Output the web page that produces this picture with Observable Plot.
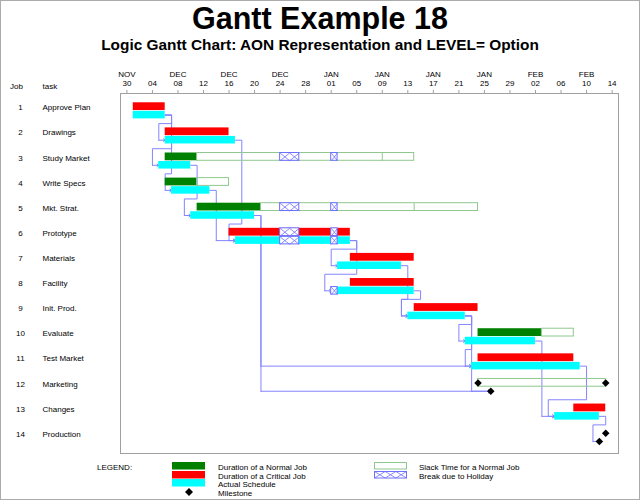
<!DOCTYPE html>
<html><head><meta charset="utf-8">
<script src="https://cdn.jsdelivr.net/npm/d3@7"></script>
<script src="https://cdn.jsdelivr.net/npm/@observablehq/plot@0.6"></script>
<style>
body{margin:0;background:#fff;font-family:"Liberation Sans",Arial,Helvetica,sans-serif;}
#wrap{position:relative;width:640px;height:500px;overflow:hidden;background:#fff;}
#border{position:absolute;left:0;top:0;width:638px;height:498px;border:1px solid #ababab;pointer-events:none;}
#title{position:absolute;left:0;top:2px;width:640px;text-align:center;font-weight:bold;font-size:30.5px;line-height:32px;}
#subtitle{position:absolute;left:0;top:36px;width:640px;text-align:center;font-weight:bold;font-size:15.4px;line-height:18px;}
#chart{position:absolute;left:0;top:58px;}
#legend{position:absolute;left:0;top:455px;width:640px;height:45px;font-size:8px;line-height:10px;}
#legend .t{position:absolute;white-space:nowrap;}
#legend svg{position:absolute;overflow:visible;}
</style></head>
<body>
<div id="wrap">
  <div id="title">Gantt Example 18</div>
  <div id="subtitle">Logic Gantt Chart: AON Representation and LEVEL= Option</div>
  <div id="chart"></div>
  <div id="legend"></div>
  <div id="border"></div>
</div>
<script>
// ---------------- data ----------------
const jobs = [1,2,3,4,5,6,7,8,9,10,11,12,13,14];
const tasks = ["Approve Plan","Drawings","Study Market","Write Specs","Mkt. Strat.","Prototype",
  "Materials","Facility","Init. Prod.","Evaluate","Test Market","Marketing","Changes","Production"];
const critical = [1,1,0,0,0,1,1,1,1,0,1,1,1,1];
// scheduled (upper bar) start / finish
const schedStart  = ["2003-12-01","2003-12-06","2003-12-06","2003-12-06","2003-12-11","2003-12-16",
  "2004-01-04","2004-01-04","2004-01-14","2004-01-24","2004-01-24","2004-01-24","2004-02-08","2004-02-13"];
const schedFinish = ["2003-12-06","2003-12-16","2003-12-11","2003-12-11","2003-12-21","2004-01-04",
  "2004-01-14","2004-01-14","2004-01-24","2004-02-03","2004-02-08",null,"2004-02-13",null];
const slackEnd    = [null,null,"2004-01-14","2003-12-16","2004-01-24",null,null,null,null,"2004-02-08",null,"2004-02-13",null,null];
// actual schedule (lower bar)
const actualStart  = ["2003-12-01","2003-12-06","2003-12-05","2003-12-07","2003-12-10","2003-12-17",
  "2004-01-02","2004-01-01","2004-01-13","2004-01-22","2004-01-23","2004-01-26","2004-02-05","2004-02-12"];
const actualFinish = ["2003-12-06","2003-12-17","2003-12-10","2003-12-13","2003-12-20","2004-01-04",
  "2004-01-12","2004-01-14","2004-01-22","2004-02-02","2004-02-09",null,"2004-02-12",null];
// milestones
const milestoneJob   = [12,12,14];
const milestoneDate  = ["2004-01-24","2004-02-13","2004-02-13"];
const actualMsJob    = [12,14];
const actualMsDate   = ["2004-01-26","2004-02-12"];
// holidays
const holidayStart = ["2003-12-24","2004-01-01"];
const holidayEnd   = ["2003-12-27","2004-01-02"];
// slack segment dividers
const dividerJob  = [3,5];
const dividerDate = ["2004-01-09","2004-01-14"];
// precedence links (AON)
const linkFrom = [1,1,1,2,3,4,5,5,6,6,7,8,9,9,9,10,11,13];
const linkTo   = [2,3,4,6,5,6,11,12,7,8,9,9,10,11,12,13,13,14];
// axis ticks
const tickDates = ["2003-11-30","2003-12-04","2003-12-08","2003-12-12","2003-12-16","2003-12-20","2003-12-24","2003-12-28",
  "2004-01-01","2004-01-05","2004-01-09","2004-01-13","2004-01-17","2004-01-21","2004-01-25","2004-01-29",
  "2004-02-02","2004-02-06","2004-02-10","2004-02-14"];
const dayLabels = ["30","04","08","12","16","20","24","28","01","05","09","13","17","21","25","29","02","06","10","14"];
const monthTickDates = ["2003-11-30","2003-12-08","2003-12-16","2003-12-24","2004-01-01","2004-01-09","2004-01-17","2004-01-25","2004-02-02","2004-02-10"];
const monthLabels = ["NOV","DEC","DEC","DEC","JAN","JAN","JAN","JAN","FEB","FEB"];

// ---------------- build ----------------
const DAY = 864e5;
const D = s => s ? new Date(s + "T00:00:00Z") : null;
const GREEN = "#008000", RED = "#ff0000", CYAN = "#00ffff";
const SLACK = "#8fc88f", HATCH = "#6f6fff", LINK = "#8484ff";
const UP = [-0.2, 0.11], LOW = [0.14, 0.44], LOW_MID = 0.29, UP_MID = -0.04, CHAN = -0.37;

const rows = jobs.map((j, i) => ({
  job: j, task: tasks[i], critical: critical[i] === 1,
  ss: D(schedStart[i]), sf: D(schedFinish[i]), se: D(slackEnd[i]),
  as: D(actualStart[i]), af: D(actualFinish[i])
}));
const holidays = holidayStart.map((s, i) => ({s: D(s), e: D(holidayEnd[i])}));

const upperBars = rows.filter(r => r.sf);
const slackBars = rows.filter(r => r.se).map(r => ({job: r.job, x1: r.sf || r.ss, x2: r.se}));
const lowerBars = rows.filter(r => r.af);

// holiday break boxes
const hatchBoxes = [];
rows.forEach(r => {
  const spans = [];
  if (r.sf || r.se) spans.push({a: r.ss, b: r.se || r.sf, y1: r.job + UP[0], y2: r.job + UP[1]});
  if (r.af) spans.push({a: r.as, b: r.af, y1: r.job + LOW[0], y2: r.job + LOW[1]});
  spans.forEach(sp => holidays.forEach(h => {
    if (h.s >= sp.a && h.e <= sp.b) hatchBoxes.push({x1: h.s, x2: h.e, y1: sp.y1, y2: sp.y2});
  }));
});
const hatchLines = [];
hatchBoxes.forEach(b => {
  const days = (b.x2 - b.x1) / DAY;
  const n = Math.max(1, Math.round(days / 1.5));
  const w = (b.x2 - b.x1) / n;
  for (let k = 0; k < n; k++) {
    const xa = new Date(+b.x1 + k * w), xb = new Date(+b.x1 + (k + 1) * w);
    hatchLines.push({x1: xa, y1: b.y1, x2: xb, y2: b.y2});
    hatchLines.push({x1: xa, y1: b.y2, x2: xb, y2: b.y1});
  }
});

const dividers = dividerJob.map((j, i) => ({x: D(dividerDate[i]), y1: j + UP[0], y2: j + UP[1]}));
const msUpper = milestoneJob.map((j, i) => ({job: j, x: D(milestoneDate[i]), y: j + UP_MID}));
const msLower = actualMsJob.map((j, i) => ({job: j, x: D(actualMsDate[i]), y: j + LOW_MID}));

// connector routing
const polyPts = [], arrowSegs = [];
linkFrom.forEach((p, i) => {
  const s = linkTo[i];
  const P = rows[p - 1], S = rows[s - 1];
  const a = P.af, b = S.as;
  const yP = p + LOW_MID, yS = s + LOW_MID;
  const xa = new Date(+a + DAY), xb = new Date(+b - DAY);
  let pts;
  if (+xa <= +xb) {
    pts = [[a, yP], [xa, yP], [xa, yS]];
    arrowSegs.push({x1: xa, y1: yS, x2: b, y2: yS});
  } else {
    const yc = s + CHAN;
    pts = [[a, yP], [xa, yP], [xa, yc], [xb, yc], [xb, yS]];
    arrowSegs.push({x1: xb, y1: yS, x2: b, y2: yS});
  }
  pts.forEach(([x, y]) => polyPts.push({id: i, x, y}));
});

const monthMap = new Map(monthTickDates.map((d, i) => [+D(d), monthLabels[i]]));
const dayMap = new Map(tickDates.map((d, i) => [+D(d), dayLabels[i]]));

const plot = Plot.plot({
  width: 640, height: 400,
  marginLeft: 120, marginRight: 22, marginTop: 35, marginBottom: 5,
  style: {fontFamily: "'Liberation Sans', Arial, Helvetica, sans-serif", fontSize: "8px", background: "white", color: "black", overflow: "visible"},
  x: {type: "utc", domain: [D("2003-11-29"), D("2004-02-15")]},
  y: {domain: [0.43, 14.77], range: [35, 395], axis: null},
  marks: [
    Plot.axisX({anchor: "top", ticks: tickDates.map(D), tickSize: 4, tickPadding: 3.5, stroke: "#a0a0a0", fill: "black",
      fontSize: 8, label: null, tickFormat: d => dayMap.get(+d)}),
    Plot.axisX({anchor: "top", ticks: monthTickDates.map(D), tickSize: 0, tickPadding: 16.5, fill: "black",
      fontSize: 8, label: null, tickFormat: d => monthMap.get(+d)}),
    // connectors
    Plot.line(polyPts, {x: "x", y: "y", z: "id", stroke: LINK, strokeWidth: 1, curve: "linear"}),
    Plot.arrow(arrowSegs, {x1: "x1", y1: "y1", x2: "x2", y2: "y2", stroke: LINK, strokeWidth: 1, headLength: 4, headAngle: 70}),
    // bars
    Plot.rect(upperBars, {x1: "ss", x2: "sf", y1: d => d.job + UP[0], y2: d => d.job + UP[1], fill: d => d.critical ? RED : GREEN}),
    Plot.rect(slackBars, {x1: "x1", x2: "x2", y1: d => d.job + UP[0], y2: d => d.job + UP[1], fill: "none", stroke: SLACK}),
    Plot.link(dividers, {x1: "x", x2: "x", y1: "y1", y2: "y2", stroke: SLACK}),
    Plot.rect(lowerBars, {x1: "as", x2: "af", y1: d => d.job + LOW[0], y2: d => d.job + LOW[1], fill: CYAN}),
    Plot.rect(hatchBoxes, {x1: "x1", x2: "x2", y1: "y1", y2: "y2", fill: "white", stroke: HATCH}),
    Plot.link(hatchLines, {x1: "x1", y1: "y1", x2: "x2", y2: "y2", stroke: HATCH, strokeWidth: 0.8}),
    // milestones
    Plot.dot(msUpper, {x: "x", y: "y", symbol: "diamond2", r: 3.4, fill: "black"}),
    Plot.dot(msLower, {x: "x", y: "y", symbol: "diamond2", r: 3.4, fill: "black"}),
    // left columns
    Plot.text(rows, {y: "job", text: d => String(d.job), frameAnchor: "left", dx: -100, textAnchor: "middle", fontSize: 8, fill: "black"}),
    Plot.text(rows, {y: "job", text: "task", frameAnchor: "left", dx: -78, textAnchor: "start", fontSize: 8, fill: "black"}),
    Plot.text(["Job"], {frameAnchor: "top-left", dx: -104, dy: -10, textAnchor: "middle", fontSize: 8, fill: "black"}),
    Plot.text(["task"], {frameAnchor: "top-left", dx: -78, dy: -10, textAnchor: "start", fontSize: 8, fill: "black"}),
    Plot.frame({stroke: "#a0a0a0"})
  ]
});
document.getElementById("chart").appendChild(plot);

// ---------------- legend ----------------
const legendLeft = [
  {label: "Duration of a Normal Job", kind: "rect", color: GREEN},
  {label: "Duration of a Critical Job", kind: "rect", color: RED},
  {label: "Actual Schedule", kind: "rect", color: CYAN},
  {label: "Milestone", kind: "diamond"}
];
const legendRight = [
  {label: "Slack Time for a Normal Job", kind: "slack"},
  {label: "Break due to Holiday", kind: "hatch"}
];
const lg = document.getElementById("legend");
const NS = "http://www.w3.org/2000/svg";
function addText(txt, left, top) {
  const s = document.createElement("div");
  s.className = "t"; s.style.left = left + "px"; s.style.top = top + "px"; s.textContent = txt;
  lg.appendChild(s);
}
function addSwatch(kind, color, left, top) {
  const svg = document.createElementNS(NS, "svg");
  svg.setAttribute("width", 34); svg.setAttribute("height", 9);
  svg.style.left = left + "px"; svg.style.top = top + "px";
  const mk = (tag, attrs) => { const e = document.createElementNS(NS, tag); for (const k in attrs) e.setAttribute(k, attrs[k]); svg.appendChild(e); return e; };
  if (kind === "rect") mk("rect", {x: 0, y: 0, width: 33, height: 7.5, fill: color});
  else if (kind === "diamond") mk("path", {d: "M17,0L21,4L17,8L13,4Z", fill: "black"});
  else if (kind === "slack") mk("rect", {x: 0.5, y: 0.5, width: 32, height: 6.5, fill: "none", stroke: SLACK});
  else if (kind === "hatch") {
    mk("rect", {x: 0.5, y: 0.5, width: 32, height: 6.5, fill: "white", stroke: HATCH});
    const n = 3, w = 32 / n;
    for (let k = 0; k < n; k++) {
      mk("line", {x1: 0.5 + k * w, y1: 0.5, x2: 0.5 + (k + 1) * w, y2: 7, stroke: HATCH, "stroke-width": 0.8});
      mk("line", {x1: 0.5 + k * w, y1: 7, x2: 0.5 + (k + 1) * w, y2: 0.5, stroke: HATCH, "stroke-width": 0.8});
    }
  }
  lg.appendChild(svg);
}
addText("LEGEND:", 97, 7.5);
const rowTops = [7.5, 16, 24.8, 33];
legendLeft.forEach((it, i) => {
  addSwatch(it.kind, it.color, 172, rowTops[i] - 0.5);
  addText(it.label, 218, rowTops[i] + 0.5);
});
legendRight.forEach((it, i) => {
  addSwatch(it.kind, null, 374, rowTops[i] - 0.5);
  addText(it.label, 419, rowTops[i] + 0.5);
});
</script>
</body></html>
